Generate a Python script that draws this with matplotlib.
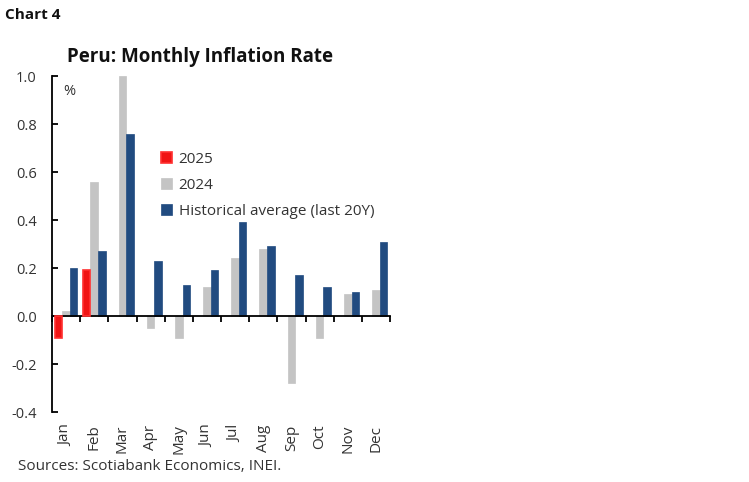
import matplotlib
matplotlib.use("Agg")
import matplotlib.pyplot as plt
import numpy as np

months = ["Jan", "Feb", "Mar", "Apr", "May", "Jun", "Jul", "Aug", "Sep", "Oct", "Nov", "Dec"]
y2025 = [-0.09, 0.19]
y2024 = [0.02, 0.56, 1.00, -0.05, -0.09, 0.12, 0.24, 0.28, -0.28, -0.09, 0.09, 0.11]
hist = [0.20, 0.27, 0.76, 0.23, 0.13, 0.19, 0.39, 0.29, 0.17, 0.12, 0.10, 0.31]
yticks = [-0.4, -0.2, 0.0, 0.2, 0.4, 0.6, 0.8, 1.0]

plt.rcParams['font.family'] = ['Open Sans', 'DejaVu Sans']

RED = '#F01414'
GRAY = '#C4C4C4'
BLUE = '#214B80'
TXT = '#333333'

fig = plt.figure(figsize=(7.49, 4.82), dpi=100)
ax = fig.add_axes([52/749, 1-412/482, 338/749, 336/482])

x = np.arange(len(months))
w = 0.27
off = 0.27
ax.bar(x[:len(y2025)] - off, y2025, w, color=RED, edgecolor='#FF3030', linewidth=1.2, label='2025', zorder=3)
ax.bar(x + 0, y2024, w, color=GRAY, edgecolor=GRAY, linewidth=0.5, label='2024', zorder=2)
ax.bar(x + off, hist, w, color=BLUE, edgecolor=BLUE, linewidth=0.5, label='Historical average (last 20Y)', zorder=2)

ax.set_xlim(-0.5, len(months) - 0.5)
ax.set_ylim(-0.4, 1.0)
ax.set_yticks(yticks)
ax.set_yticklabels([f"{v:.1f}" for v in yticks])

for s in ['top', 'right']:
    ax.spines[s].set_visible(False)
ax.spines['bottom'].set_position(('data', 0))
ax.spines['left'].set_linewidth(1.3)
ax.spines['bottom'].set_linewidth(1.3)

ax.tick_params(axis='y', direction='in', length=4, width=1.3, pad=11, labelsize=10.5, labelcolor=TXT)
ax.set_xticks(np.arange(len(months) + 1) - 0.5)
ax.set_xticklabels([])
ax.tick_params(axis='x', direction='out', length=4, width=1.3)

sec = ax.secondary_xaxis('bottom')
sec.set_xticks(x)
sec.set_xticklabels(months, rotation=90)
sec.tick_params(length=0, pad=9, labelsize=11, labelcolor=TXT)
sec.spines['bottom'].set_visible(False)

ax.text(0.033, 0.975, '%', transform=ax.transAxes, fontsize=10.5, color=TXT, va='top', ha='left')

leg = ax.legend(loc='upper left', bbox_to_anchor=(161/749, 1-152/482), bbox_transform=fig.transFigure,
                frameon=False, fontsize=11, handlelength=0.7, handleheight=0.7, handletextpad=0.45,
                labelspacing=0.72, borderaxespad=0, borderpad=0)
for t in leg.get_texts():
    t.set_color(TXT)

fig.text(67/749, 1-57/482, 'Peru: Monthly Inflation Rate', fontsize=13.5, fontweight='bold', va='center', ha='left', color='#111111')
fig.text(5/749, 1-15/482, 'Chart 4', fontsize=11, fontweight='bold', va='center', ha='left', color='#111111')
fig.text(18/749, 1-467/482, 'Sources: Scotiabank Economics, INEI.', fontsize=11, va='center', ha='left', color=TXT)

fig.savefig('out.png', dpi=100)
